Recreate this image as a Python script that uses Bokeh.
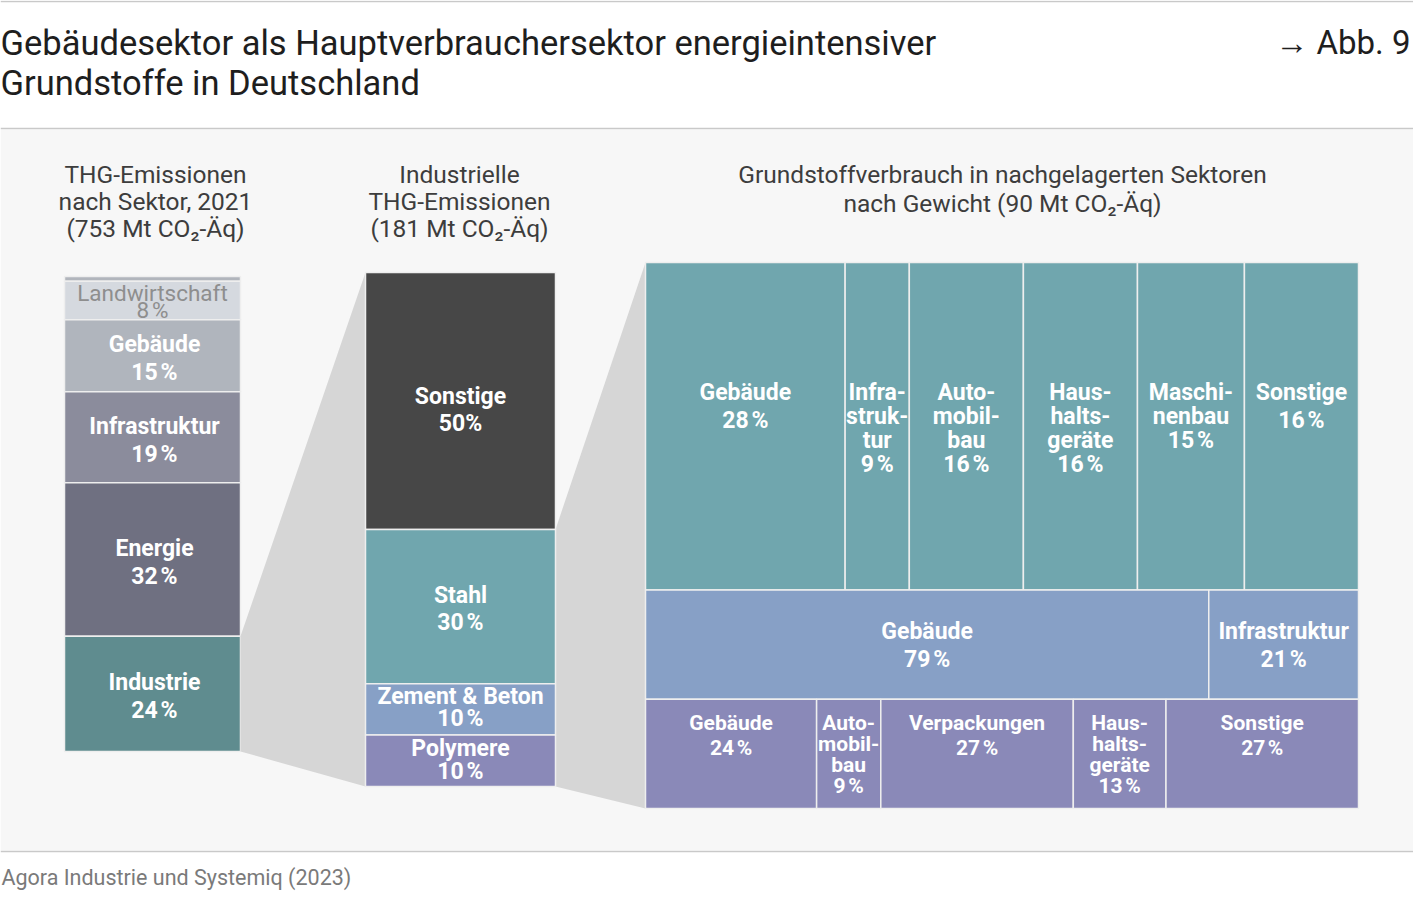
from bokeh.plotting import figure
from bokeh.models import Range1d, ColumnDataSource
from bokeh.core.properties import value
from bokeh.embed import file_html
from bokeh.resources import INLINE

# ---------------------------------------------------------------- data
# THG-Emissionen nach Sektor, 2021 (Anteile in %)
sector_names = ["Abfall", "Landwirtschaft", "Gebäude", "Infrastruktur", "Energie", "Industrie"]
sector_labels = ["", "Landwirtschaft", "Gebäude", "Infrastruktur", "Energie", "Industrie"]
sector_shares = [1, 8, 15, 19, 32, 24]

# Industrielle THG-Emissionen nach Grundstoff (Anteile in %)
material_names = ["Sonstige", "Stahl", "Zement & Beton", "Polymere"]
material_shares = [50, 30, 10, 10]

# Verbrauch der Grundstoffe in nachgelagerten Sektoren (Anteile in %)
steel_sectors = ["Gebäude", "Infra-\nstruk-\ntur", "Auto-\nmobil-\nbau", "Haus-\nhalts-\ngeräte", "Maschi-\nnenbau", "Sonstige"]
steel_shares = [28, 9, 16, 16, 15, 16]

cement_sectors = ["Gebäude", "Infrastruktur"]
cement_shares = [79, 21]

polymer_sectors = ["Gebäude", "Auto-\nmobil-\nbau", "Verpackungen", "Haus-\nhalts-\ngeräte", "Sonstige"]
polymer_shares = [24, 9, 27, 13, 27]

# ---------------------------------------------------------------- styles
FONT = "Roboto"
SECTOR_COLORS = ["#b1b5bc", "#d5d9df", "#b0b5bd", "#8b8c9c", "#6f7081", "#5f8c8f"]
MATERIAL_COLORS = ["#474747", "#70a6ae", "#87a0c6", "#8a89b8"]
CONNECTOR = "#d6d6d6"
LABEL_SIZE = 23


def pct(v):
    return f"{v}\u202f%"


def stack(values, start, end):
    total = float(sum(values))
    scale = (end - start) / total
    edges = [start]
    for v in values:
        edges.append(edges[-1] + v * scale)
    return edges[:-1], edges[1:]


p = figure(width=1413, height=900, x_range=Range1d(0, 1413), y_range=Range1d(900, 0),
           output_backend="svg", toolbar_location=None, min_border=0)
p.axis.visible = False
p.grid.visible = False
p.outline_line_color = None
p.background_fill_color = "white"
p.border_fill_color = "white"

# panel background and rules
p.quad(left=[0], right=[1413], top=[129], bottom=[850], fill_color="#f7f7f7", line_color=None)
p.segment(x0=[0, 0, 0], x1=[1413, 1413, 1413], y0=[1, 128, 851], y1=[1, 128, 851],
          line_color="#c9c9c9", line_width=1.5)

text_lines = {"x": [], "y": [], "text": [], "color": [], "size": [], "style": [], "align": []}


def add_text(x, y, t, color="white", size=LABEL_SIZE, style="bold", align="center"):
    text_lines["x"].append(x)
    text_lines["y"].append(y)
    text_lines["text"].append(t)
    text_lines["color"].append(color)
    text_lines["size"].append(f"{size}px")
    text_lines["style"].append(style)
    text_lines["align"].append(align)


def add_block(x, y_center, lines, spacing, **kw):
    n = len(lines)
    y0 = y_center - spacing * (n - 1) / 2.0
    for i, ln in enumerate(lines):
        add_text(x, y0 + i * spacing, ln, **kw)


# ---------------------------------------------------------------- left column: sectors
LX0, LX1, LTOP, LBOT = 64, 240, 276, 751
s_top, s_bot = stack(sector_shares, LTOP, LBOT)
p.quad(left=LX0, right=LX1, top=s_top, bottom=s_bot, fill_color=SECTOR_COLORS,
       line_color="#eeeeee", line_width=1.5)
for lab, v, t, b in zip(sector_labels, sector_shares, s_top, s_bot):
    if not lab:
        continue
    h = b - t
    spacing = min(28, 0.45 * h)
    cx = (LX0 + LX1) / 2 + 2
    if lab == "Landwirtschaft":
        add_block(cx - 2, (t + b) / 2 + 1, [lab, pct(v)], spacing, color="#8e8e8e", size=22.5, style="normal")
    else:
        add_block(cx, (t + b) / 2 + 3, [lab, pct(v)], spacing)

# ---------------------------------------------------------------- middle column: materials
MX0, MX1, MTOP, MBOT = 365, 555, 272, 786
m_top, m_bot = stack(material_shares, MTOP, MBOT)

# ---------------------------------------------------------------- right panel
RX0, RX1, RTOP, RBOT = 645, 1358, 262, 808
row_top, row_bot = stack(material_shares[1:], RTOP, RBOT)

# connectors
ind_i = sector_names.index("Industrie")
p.patch(x=[LX1, MX0, MX0, LX1], y=[s_top[ind_i], MTOP, MBOT, s_bot[ind_i]],
        fill_color=CONNECTOR, line_color=None)
p.patch(x=[MX1, RX0, RX0, MX1], y=[m_top[1], RTOP, RBOT, MBOT],
        fill_color=CONNECTOR, line_color=None)

p.quad(left=MX0, right=MX1, top=m_top, bottom=m_bot, fill_color=MATERIAL_COLORS,
       line_color="#eeeeee", line_width=1.5)
mid_shift = {"Sonstige": 9, "Stahl": 2, "Zement & Beton": -2, "Polymere": -1}
for lab, v, t, b in zip(material_names, material_shares, m_top, m_bot):
    h = b - t
    spacing = min(27, 0.44 * h)
    pt = f"{v}%" if lab == "Sonstige" else pct(v)
    add_block((MX0 + MX1) / 2, (t + b) / 2 + mid_shift[lab], [lab, pt], spacing)

rows = [
    (steel_sectors, steel_shares, MATERIAL_COLORS[1], 130, 28, 24, LABEL_SIZE),
    (cement_sectors, cement_shares, MATERIAL_COLORS[2], 41, 28, 28, LABEL_SIZE),
    (polymer_sectors, polymer_shares, MATERIAL_COLORS[3], 24, 25, 21, 21),
]
for (names, shares, col, off, sp2, spn, fs), rt, rb in zip(rows, row_top, row_bot):
    c_left, c_right = stack(shares, RX0, RX1)
    p.quad(left=c_left, right=c_right, top=rt, bottom=rb, fill_color=col,
           line_color="#eeeeee", line_width=1.5)
    for nm, v, l, r in zip(names, shares, c_left, c_right):
        lines = nm.split("\n") + [pct(v)]
        sp = sp2 if len(lines) <= 2 else spn
        for i, ln in enumerate(lines):
            add_text((l + r) / 2, rt + off + i * sp, ln, size=fs)

# ---------------------------------------------------------------- headers
HEAD = "#3d3d3d"
HEAD_SIZE = 24.5
for i, ln in enumerate(["THG-Emissionen", "nach Sektor, 2021", "(753 Mt CO\u2082-Äq)"]):
    add_text(155, 174 + 27 * i, ln, color=HEAD, size=HEAD_SIZE, style="normal")
for i, ln in enumerate(["Industrielle", "THG-Emissionen", "(181 Mt CO\u2082-Äq)"]):
    add_text(459, 174 + 27 * i, ln, color=HEAD, size=HEAD_SIZE, style="normal")
for i, ln in enumerate(["Grundstoffverbrauch in nachgelagerten Sektoren", "nach Gewicht (90 Mt CO\u2082-Äq)"]):
    add_text(1002, 174 + 29 * i, ln, color=HEAD, size=HEAD_SIZE, style="normal")

# ---------------------------------------------------------------- title, reference and source
TITLE = "#1e1e1e"
add_text(0, 42, "Gebäudesektor als Hauptverbrauchersektor energieintensiver", color=TITLE, size=34.5,
         style="normal", align="left")
add_text(0, 82, "Grundstoffe in Deutschland", color=TITLE, size=34.5, style="normal", align="left")
add_text(1410, 42, "\u2192 Abb. 9", color=TITLE, size=33, style="normal", align="right")
add_text(1, 877, "Agora Industrie und Systemiq (2023)", color="#7a7a7a", size=21.5, style="normal", align="left")

src = ColumnDataSource(text_lines)
p.text(x="x", y="y", text="text", source=src, text_color="color", text_font_size="size",
       text_font_style="style", text_align="align", text_baseline="middle", text_font=value(FONT))

open("out.html", "w").write(file_html(p, INLINE))
